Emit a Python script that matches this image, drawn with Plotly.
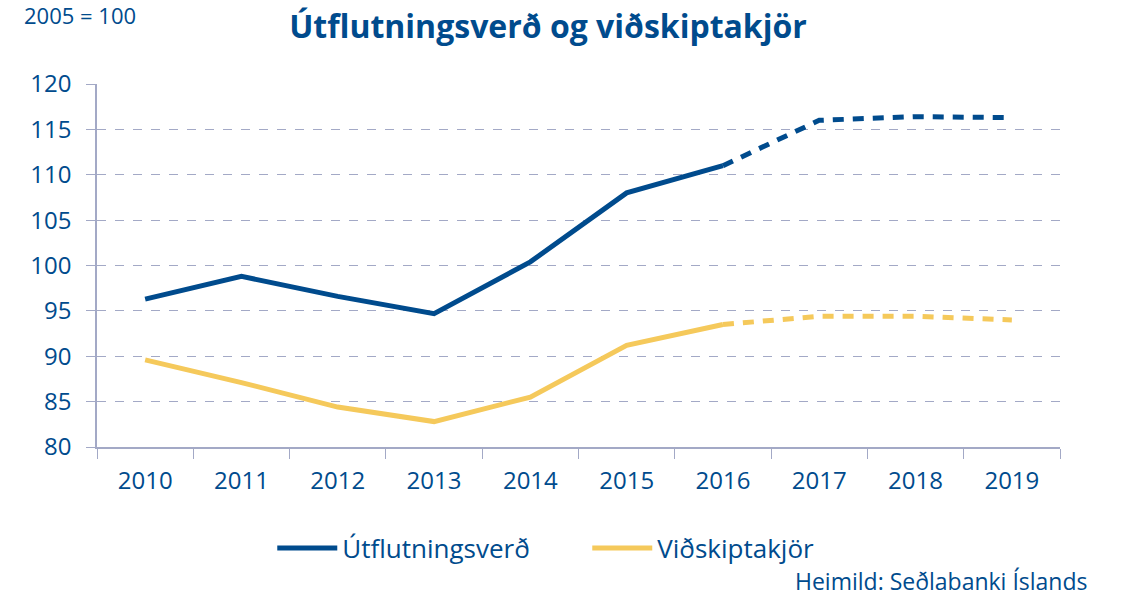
import plotly.graph_objects as go

years = ["2010", "2011", "2012", "2013", "2014", "2015", "2016", "2017", "2018", "2019"]
utflutningsverd = [96.3, 98.8, 96.6, 94.7, 100.4, 108.0, 111.0, 116.0, 116.4, 116.3]
vidskiptakjor = [89.6, 87.1, 84.4, 82.8, 85.5, 91.2, 93.5, 94.4, 94.4, 94.0]
split = 6  # index of 2016: dashed from here on (forecast)

BLUE = "#004B8D"
YELLOW = "#F5C95B"
GRID = "#A3A9C6"
FONT = "Open Sans"

fig = go.Figure()
fig.add_trace(go.Scatter(x=years[:split + 1], y=utflutningsverd[:split + 1], mode="lines",
                         name="Útflutningsverð", line=dict(color=BLUE, width=5)))
fig.add_trace(go.Scatter(x=years[split:], y=utflutningsverd[split:], mode="lines",
                         showlegend=False, line=dict(color=BLUE, width=5, dash="11px,9px")))
fig.add_trace(go.Scatter(x=years[:split + 1], y=vidskiptakjor[:split + 1], mode="lines",
                         name="Viðskiptakjör", line=dict(color=YELLOW, width=5)))
fig.add_trace(go.Scatter(x=years[split:], y=vidskiptakjor[split:], mode="lines",
                         showlegend=False, line=dict(color=YELLOW, width=5, dash="11px,9px")))

fig.update_layout(
    width=1122, height=599,
    margin=dict(l=97, r=62, t=84, b=152, autoexpand=False),
    paper_bgcolor="white", plot_bgcolor="white",
    font=dict(family=FONT, color=BLUE),
    title=dict(text="<b>Útflutningsverð og viðskiptakjör</b>", x=548 / 1122, xanchor="center",
               y=1 - 27 / 599, yanchor="middle", font=dict(size=32, color=BLUE, family=FONT)),
    showlegend=True,
    legend=dict(orientation="h", x=0.182, xanchor="left", y=(447 - 548) / 363, yanchor="middle",
                font=dict(size=26, color=BLUE, family=FONT), itemwidth=60,
                entrywidth=240, entrywidthmode="pixels",
                bgcolor="rgba(0,0,0,0)"),
    annotations=[
        dict(text="2005 = 100", xref="paper", yref="paper", x=-0.078, y=1.19,
             xanchor="left", yanchor="middle", showarrow=False,
             font=dict(size=22, color=BLUE, family=FONT)),
        dict(text="Heimild: Seðlabanki Íslands", xref="paper", yref="paper", x=1.031,
             y=(447 - 599) / 363, xanchor="right", yanchor="bottom", showarrow=False,
             font=dict(size=23, color=BLUE, family=FONT)),
    ],
)
fig.update_xaxes(type="category", range=[-0.5, 9.5], tickson="boundaries",
                 ticks="outside", ticklen=10, tickcolor=GRID, showline=True, linecolor=GRID,
                 linewidth=1.5, showgrid=False, tickfont=dict(size=24, color=BLUE, family=FONT),
                 ticklabelstandoff=11)
fig.update_yaxes(range=[80, 120], dtick=5, ticks="outside", ticklen=9, tickcolor=GRID,
                 showline=True, linecolor=GRID, linewidth=1.5, showgrid=True, gridcolor=GRID,
                 griddash="dash", gridwidth=1, zeroline=False,
                 tickfont=dict(size=24, color=BLUE, family=FONT), ticklabelstandoff=10)

fig.write_html("out.html", config={"displayModeBar": False},
               post_script="document.body.style.margin='0';")
